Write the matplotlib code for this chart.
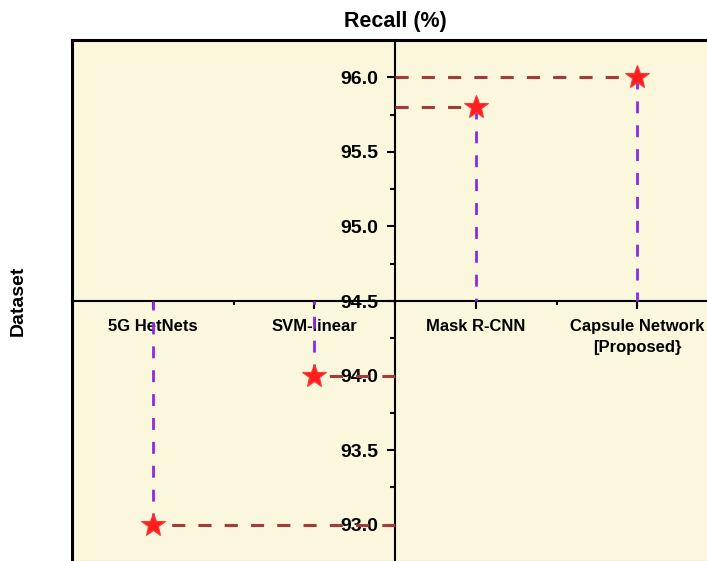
import matplotlib
matplotlib.use("Agg")
import matplotlib.pyplot as plt
from matplotlib.ticker import FixedLocator, FormatStrFormatter

# data
categories = ["5G HetNets", "SVM-linear", "Mask R-CNN", "Capsule Network\n[Proposed}"]
recall = [93.0, 94.0, 95.8, 96.0]
y_ticks = [93.0, 93.5, 94.0, 94.5, 95.0, 95.5, 96.0]

plt.rcParams['font.family'] = ['Liberation Sans', 'DejaVu Sans']
plt.rcParams['font.weight'] = 'bold'

bg = '#FAF7DC'
red_line = '#A43A3A'
purple_line = '#8A2BE2'

fig = plt.figure(figsize=(7.07, 5.61), dpi=100)
# frame is partly outside the picture (right and bottom cut off, like the original)
ax = fig.add_axes([72 / 707, -1 / 561, 646 / 707, 522 / 561])
ax.set_facecolor(bg)

ax.set_xlim(0.5, 4.5)
ax.set_ylim(92.75, 96.25)

x_cross = 2.5
y_cross = 94.5

# axes crossing in the middle
ax.spines['left'].set_position(('data', x_cross))
ax.spines['bottom'].set_position(('data', y_cross))
ax.spines['left'].set_linewidth(1.5)
ax.spines['bottom'].set_linewidth(1.5)
ax.spines['top'].set_linewidth(2.2)
ax.spines['right'].set_linewidth(2.2)
ax.axvline(0.5, color='black', lw=2.2, clip_on=False)
ax.axhline(92.75, color='black', lw=2.2, clip_on=False)

xs = list(range(1, len(categories) + 1))

# drop lines to both axes
for x, y in zip(xs, recall):
    ax.plot([x_cross, x], [y, y], color=red_line, lw=2.2,
            linestyle=(0, (4.3, 4.3)), zorder=3)
    ax.plot([x, x], [y, y_cross], color=purple_line, lw=2.0,
            linestyle=(0, (4.3, 4.3)), zorder=3)

ax.plot(xs, recall, linestyle='none', marker='*', markersize=18,
        color='#FF1E1E', markeredgecolor='#FF3A3A', markeredgewidth=0.8, zorder=5)

ax.set_xticks(xs)
ax.set_xticklabels(categories, fontsize=12, fontweight='bold', linespacing=1.5)
ax.xaxis.set_minor_locator(FixedLocator([1.5, 2.5, 3.5]))
ax.set_yticks(y_ticks)
ax.yaxis.set_major_formatter(FormatStrFormatter('%.1f'))
ax.yaxis.set_minor_locator(FixedLocator([93.25, 93.75, 94.25, 94.75, 95.25, 95.75]))
for lab in ax.get_yticklabels():
    lab.set_fontsize(14)
    lab.set_fontweight('bold')

ax.tick_params(axis='x', which='major', direction='out', length=6, width=1.5, pad=7)
ax.tick_params(axis='x', which='minor', direction='out', length=3, width=1.5)
ax.tick_params(axis='y', which='major', direction='out', length=6, width=1.5, pad=6)
ax.tick_params(axis='y', which='minor', direction='out', length=3.5, width=1.5)

ax.set_title('Recall (%)', fontsize=15.5, fontweight='bold', pad=9)
ax.set_ylabel('Dataset', fontsize=14, fontweight='bold')
ax.yaxis.set_label_coords(-0.07, 0.5)

fig.savefig('out.png', dpi=100)
